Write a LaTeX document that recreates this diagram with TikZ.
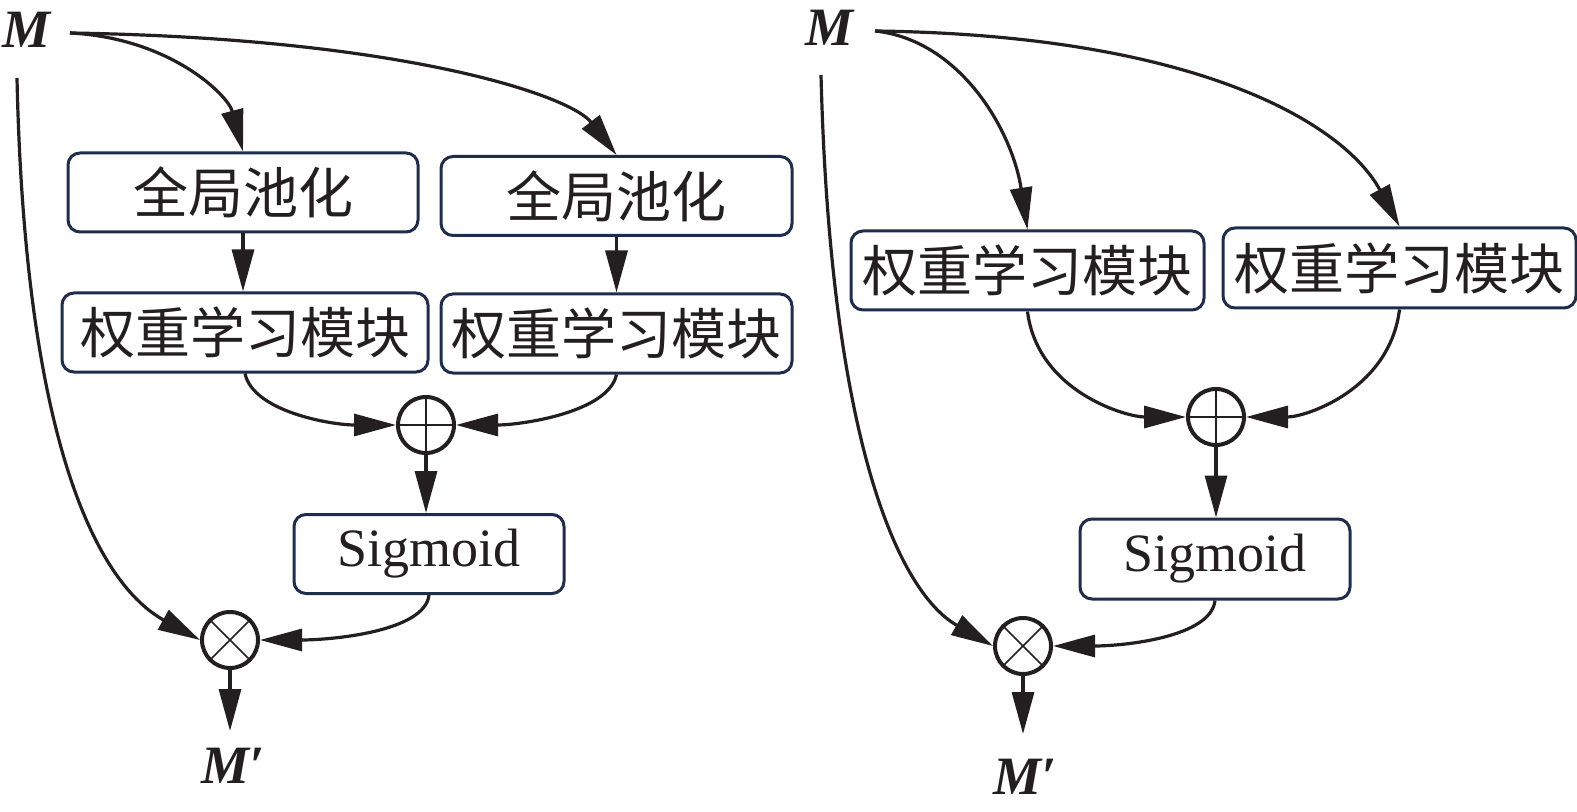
\documentclass[tikz,border=0pt]{standalone}
\usepackage{fontspec}
\setmainfont{Liberation Serif}
\newfontfamily\cjk{Noto Sans CJK SC}
\usetikzlibrary{arrows.meta}
\definecolor{boxc}{HTML}{1F2D4D}
\definecolor{ink}{HTML}{231F20}
\begin{document}
\begin{tikzpicture}[x=0.5pt,y=-0.5pt,
  box/.style={draw=boxc,line width=1.5pt,rounded corners=6pt,fill=white,inner sep=0pt,
    minimum height=39.5pt,text=ink},
  cn/.style={box,font=\cjk\fontsize{27.5}{30}\selectfont},
  sg/.style={box,font=\fontsize{27}{30}\selectfont},
  opc/.style={circle,draw=ink,line width=2pt,minimum size=28pt,inner sep=0pt},
  lbl/.style={font=\fontsize{27}{30}\selectfont\bfseries\itshape,text=ink,inner sep=0pt},
  conn/.style={draw=ink,line width=1.6pt},
  arr/.style={conn,-{Triangle[length=21pt,width=11pt]}},
  thinl/.style={draw=ink,line width=0.8pt}]
\useasboundingbox (0,0) rectangle (1577,812);

% ---------- left diagram ----------
\node[lbl] (M1) at (27,30) {M};
\coordinate (m1s) at (70,33);
\coordinate (v1) at (17,78);
\node[cn,minimum width=175pt] (g1) at (243,192.5) {全局池化};
\node[cn,minimum width=175.5pt] (g2) at (616.5,196) {全局池化};
\node[cn,minimum width=183pt] (w1) at (245,332.5) {权重学习模块};
\node[cn,minimum width=175.5pt] (w2) at (616.5,333.5) {权重学习模块};
\node[opc] (p1) at (426,425) {};
\node[sg,minimum width=135pt] (s1) at (429,554) {Sigmoid};
\node[opc] (t1) at (230,640) {};
\node[lbl] (M1p) at (233,766) {M′};
\coordinate (o1) at (230,731);

\draw[thinl] (p1.north) -- (p1.south) (p1.west) -- (p1.east);
\draw[thinl] (t1.north east) -- (t1.south west) (t1.north west) -- (t1.south east);

\draw[arr] (m1s) .. controls (170,38) and (228,95) .. (g1.north);
\draw[arr] (m1s) .. controls (400,38) and (570,95) .. (g2.north);
\draw[arr] (g1.south) -- (g1.south |- w1.north);
\draw[arr] (g2.south) -- (g2.south |- w2.north);
\draw[arr] (w1.south) .. controls +(8,38) and +(-65,0) .. (p1.west);
\draw[arr] (w2.south) .. controls +(-8,38) and +(65,0) .. (p1.east);
\draw[arr] (p1.south) -- (p1.south |- s1.north);
\draw[arr] (s1.south) .. controls +(-4,37) and +(70,0) .. (t1.east);
\draw[arr] (v1) .. controls (25,450) and (100,585) .. (t1.west);
\draw[arr] (t1.south) -- (o1);

% ---------- right diagram ----------
\node[lbl] (M2) at (829,28) {M};
\coordinate (m2s) at (875,31);
\coordinate (v2) at (821,75);
\node[cn,minimum width=176.5pt] (w3) at (1027.5,270.5) {权重学习模块};
\node[cn,minimum width=176.5pt,minimum height=40pt] (w4) at (1399.5,268) {权重学习模块};
\node[opc] (p2) at (1216,417) {};
\node[sg,minimum width=135pt,minimum height=40pt] (s2) at (1215,559) {Sigmoid};
\node[opc] (t2) at (1023,646) {};
\node[lbl] (M2p) at (1025,777) {M′};
\coordinate (o2) at (1023,734);

\draw[thinl] (p2.north) -- (p2.south) (p2.west) -- (p2.east);
\draw[thinl] (t2.north east) -- (t2.south west) (t2.north west) -- (t2.south east);

\draw[arr] (m2s) .. controls (960,40) and (1012,130) .. (w3.north);
\draw[arr] (m2s) .. controls (1200,35) and (1345,125) .. (w4.north);
\draw[arr] (w3.south) .. controls +(10,80) and +(-60,0) .. (p2.west);
\draw[arr] (w4.south) .. controls +(-10,80) and +(60,0) .. (p2.east);
\draw[arr] (p2.south) -- (p2.south |- s2.north);
\draw[arr] (s2.south) .. controls +(-4,37) and +(70,0) .. (t2.east);
\draw[arr] (v2) .. controls (830,430) and (895,590) .. (t2.west);
\draw[arr] (t2.south) -- (o2);
\end{tikzpicture}
\end{document}
